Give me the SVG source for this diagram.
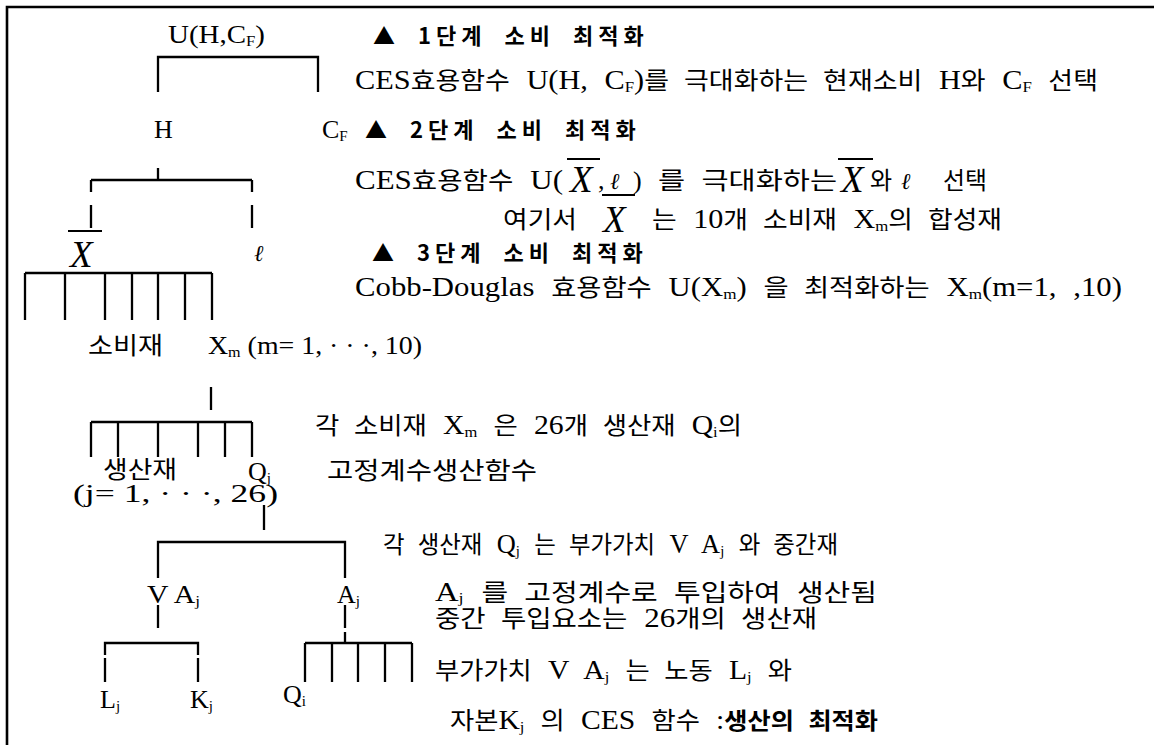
<svg xmlns="http://www.w3.org/2000/svg" width="1154" height="745" viewBox="0 0 1154 745">
<style>
.t{font-family:"Liberation Serif","Noto Sans CJK KR",serif;font-size:27px;word-spacing:8px;fill:#000}
.n{font-family:"Liberation Serif","Noto Sans CJK KR",serif;font-size:26px;fill:#000}
.k{font-family:"Noto Sans CJK KR",sans-serif;font-size:24px}
.h{font-family:"Noto Sans CJK KR","Liberation Sans",sans-serif;font-size:22px;font-weight:bold;letter-spacing:5px;word-spacing:8px;fill:#000}
.b{font-family:"Noto Sans CJK KR",sans-serif;font-size:23px;font-weight:bold}
.x{font-family:"Liberation Serif",serif;font-style:italic;font-size:37px;fill:#000}
.l{font-family:"DejaVu Serif","Liberation Serif",serif;font-style:italic;font-size:23px;fill:#000}
.s{font-size:15px}
.ln{stroke:#000;stroke-width:2.3;fill:none}
.ov{stroke:#000;stroke-width:2;fill:none}
</style>
<rect x="0" y="0" width="1154" height="745" fill="#fff"/>
<path d="M7,745 V7 H1154" stroke="#000" stroke-width="2.6" fill="none"/>

<g id="connectors">
  <path class="ln" d="M158,92 V57 H318 V92"/>
  <path class="ln" d="M158,168 V180 M91,180 H252 M91,180 V192 M91,205 V228 M252,180 V192 M252,205 V228"/>
  <path class="ln" d="M25,273 H212 M25,273 V320 M65,273 V320 M105,273 V320 M132,273 V320 M158,273 V320 M185,273 V320 M212,273 V320"/>
  <path class="ln" d="M211,387 V410"/>
  <path class="ln" d="M91,422 H252 M91,422 V457 M118,422 V457 M158,422 V457 M198,422 V457 M225,422 V457 M252,422 V457"/>
  <path class="ln" d="M264,505 V530"/>
  <path class="ln" d="M158,578 V542 H345 V578"/>
  <path class="ln" d="M158,605 V628"/>
  <path class="ln" d="M345,605 V628 M345,632 V644"/>
  <path class="ln" d="M105,655 V643 H198 V655 M105,658 V682 M198,658 V682"/>
  <path class="ln" d="M305,643 H412 M305,643 V682 M332,643 V682 M358,643 V682 M385,643 V682 M412,643 V682"/>
</g>

<g id="node-u"><text class="n" x="168" y="43" font-size="27" textLength="97" lengthAdjust="spacingAndGlyphs">U(H,C<tspan class="s" dy="3">F</tspan><tspan dy="-3">)</tspan></text></g>
<g id="node-h"><text class="n" x="154" y="138">H</text></g>
<g id="node-cf"><text class="n" x="322" y="138">C<tspan class="s" dy="3">F</tspan></text></g>
<g id="node-xbar"><path class="ov" d="M68,231 H102"/><text class="x" x="70" y="267">X</text></g>
<g id="node-ell"><text class="l" x="254" y="261">ℓ</text></g>
<g id="node-xm">
  <text class="t" x="88" y="354" textLength="75" lengthAdjust="spacingAndGlyphs"><tspan class="k">소비재</tspan></text>
  <text class="n" x="208" y="354" textLength="214" lengthAdjust="spacingAndGlyphs">X<tspan class="s" dy="3">m</tspan><tspan dy="-3"> (m= 1, ·  ·  ·, 10)</tspan></text>
</g>
<g id="node-q">
  <text class="t" x="103" y="478" textLength="74" lengthAdjust="spacingAndGlyphs"><tspan class="k">생산재</tspan></text>
  <text class="n" x="248" y="480">Q<tspan class="s" dy="3">j</tspan></text>
  <text class="n" x="73" y="502" textLength="205" lengthAdjust="spacingAndGlyphs">(j= 1, ·  ·  ·, 26)</text>
</g>
<g id="node-vaj"><text class="n" x="147" y="603" textLength="53" lengthAdjust="spacingAndGlyphs">V A<tspan class="s" dy="3">j</tspan></text></g>
<g id="node-aj"><text class="n" x="337" y="603">A<tspan class="s" dy="3">j</tspan></text></g>
<g id="node-lj"><text class="n" x="100" y="708">L<tspan class="s" dy="3">j</tspan></text></g>
<g id="node-kj"><text class="n" x="190" y="708">K<tspan class="s" dy="3">j</tspan></text></g>
<g id="node-qi"><text class="n" x="283" y="703">Q<tspan class="s" dy="3">i</tspan></text></g>

<g id="notes">
  <text class="h" x="373" y="44">▲ 1단계 소비 최적화</text>
  <text class="t" x="355" y="89" textLength="743" lengthAdjust="spacingAndGlyphs">CES<tspan class="k">효용함수</tspan> U(H, C<tspan class="s" dy="3">F</tspan><tspan dy="-3">)</tspan><tspan class="k">를 극대화하는 현재소비</tspan> H<tspan class="k">와</tspan> C<tspan class="s" dy="3">F</tspan><tspan dy="-3"> </tspan><tspan class="k">선택</tspan></text>
  <text class="h" x="365" y="138">▲ 2단계 소비 최적화</text>

  <text class="t" x="355" y="189" textLength="208" lengthAdjust="spacingAndGlyphs">CES<tspan class="k">효용함수</tspan> U(</text>
  <path class="ov" d="M567,159 H600"/><text class="x" x="570" y="192">X</text>
  <text class="n" x="598" y="189">,</text><text class="l" x="610" y="189">ℓ</text><text class="n" x="633" y="189">)</text>
  <text class="t" x="658" y="189" textLength="179" lengthAdjust="spacingAndGlyphs"><tspan class="k">를 극대화하는</tspan></text>
  <path class="ov" d="M838,159 H873"/><text class="x" x="841" y="192">X</text>
  <text class="t" x="870" y="189"><tspan class="k">와</tspan></text><text class="l" x="901" y="189">ℓ</text>
  <text class="t" x="943" y="189" textLength="44" lengthAdjust="spacingAndGlyphs"><tspan class="k">선택</tspan></text>

  <text class="t" x="503" y="228" textLength="74" lengthAdjust="spacingAndGlyphs"><tspan class="k">여기서</tspan></text>
  <path class="ov" d="M602,195 H635"/><text class="x" x="603" y="232">X</text>
  <text class="t" x="652" y="228" textLength="350" lengthAdjust="spacingAndGlyphs"><tspan class="k">는</tspan> 10<tspan class="k">개 소비재</tspan> X<tspan class="s" dy="3">m</tspan><tspan class="k" dy="-3">의 합성재</tspan></text>

  <text class="h" x="372" y="261">▲  3단계 소비 최적화</text>
  <text class="t" x="355" y="296" textLength="767" lengthAdjust="spacingAndGlyphs">Cobb-Douglas <tspan class="k">효용함수</tspan> U(X<tspan class="s" dy="3">m</tspan><tspan dy="-3">) </tspan><tspan class="k">을 최적화하는</tspan>  X<tspan class="s" dy="3">m</tspan><tspan dy="-3">(m=1, ,10)</tspan></text>

  <text class="t" x="315" y="434" textLength="427" lengthAdjust="spacingAndGlyphs"><tspan class="k">각 소비재</tspan> X<tspan class="s" dy="3">m</tspan><tspan dy="-3"> </tspan><tspan class="k">은</tspan> 26<tspan class="k">개 생산재</tspan> Q<tspan class="s" dy="3">i</tspan><tspan class="k" dy="-3">의</tspan></text>
  <text class="t" x="327" y="479" textLength="210" lengthAdjust="spacingAndGlyphs"><tspan class="k">고정계수생산함수</tspan></text>

  <text class="t" x="383" y="553" textLength="455" lengthAdjust="spacingAndGlyphs"><tspan class="k">각 생산재</tspan> Q<tspan class="s" dy="3">j</tspan><tspan dy="-3"> </tspan><tspan class="k">는 부가가치</tspan> V A<tspan class="s" dy="3">j</tspan><tspan dy="-3"> </tspan><tspan class="k">와 중간재</tspan></text>
  <text class="t" x="435" y="601" textLength="442" lengthAdjust="spacingAndGlyphs">A<tspan class="s" dy="2">j</tspan><tspan dy="-2"> </tspan><tspan class="k">를 고정계수로 투입하여 생산됨</tspan></text>
  <text class="t" x="435" y="627" textLength="382" lengthAdjust="spacingAndGlyphs"><tspan class="k">중간 투입요소는</tspan> 26<tspan class="k">개의 생산재</tspan></text>
  <text class="t" x="435" y="679" textLength="357" lengthAdjust="spacingAndGlyphs"><tspan class="k">부가가치</tspan> V A<tspan class="s" dy="3">j</tspan><tspan dy="-3"> </tspan><tspan class="k">는 노동</tspan> L<tspan class="s" dy="3">j</tspan><tspan dy="-3"> </tspan><tspan class="k">와</tspan></text>
  <text class="t" x="450" y="729" textLength="428" lengthAdjust="spacingAndGlyphs"><tspan class="k">자본</tspan>K<tspan class="s" dy="3">j</tspan><tspan dy="-3"> </tspan><tspan class="k">의</tspan> CES <tspan class="k">함수</tspan> :<tspan class="b">생산의 최적화</tspan></text>
</g>
</svg>
